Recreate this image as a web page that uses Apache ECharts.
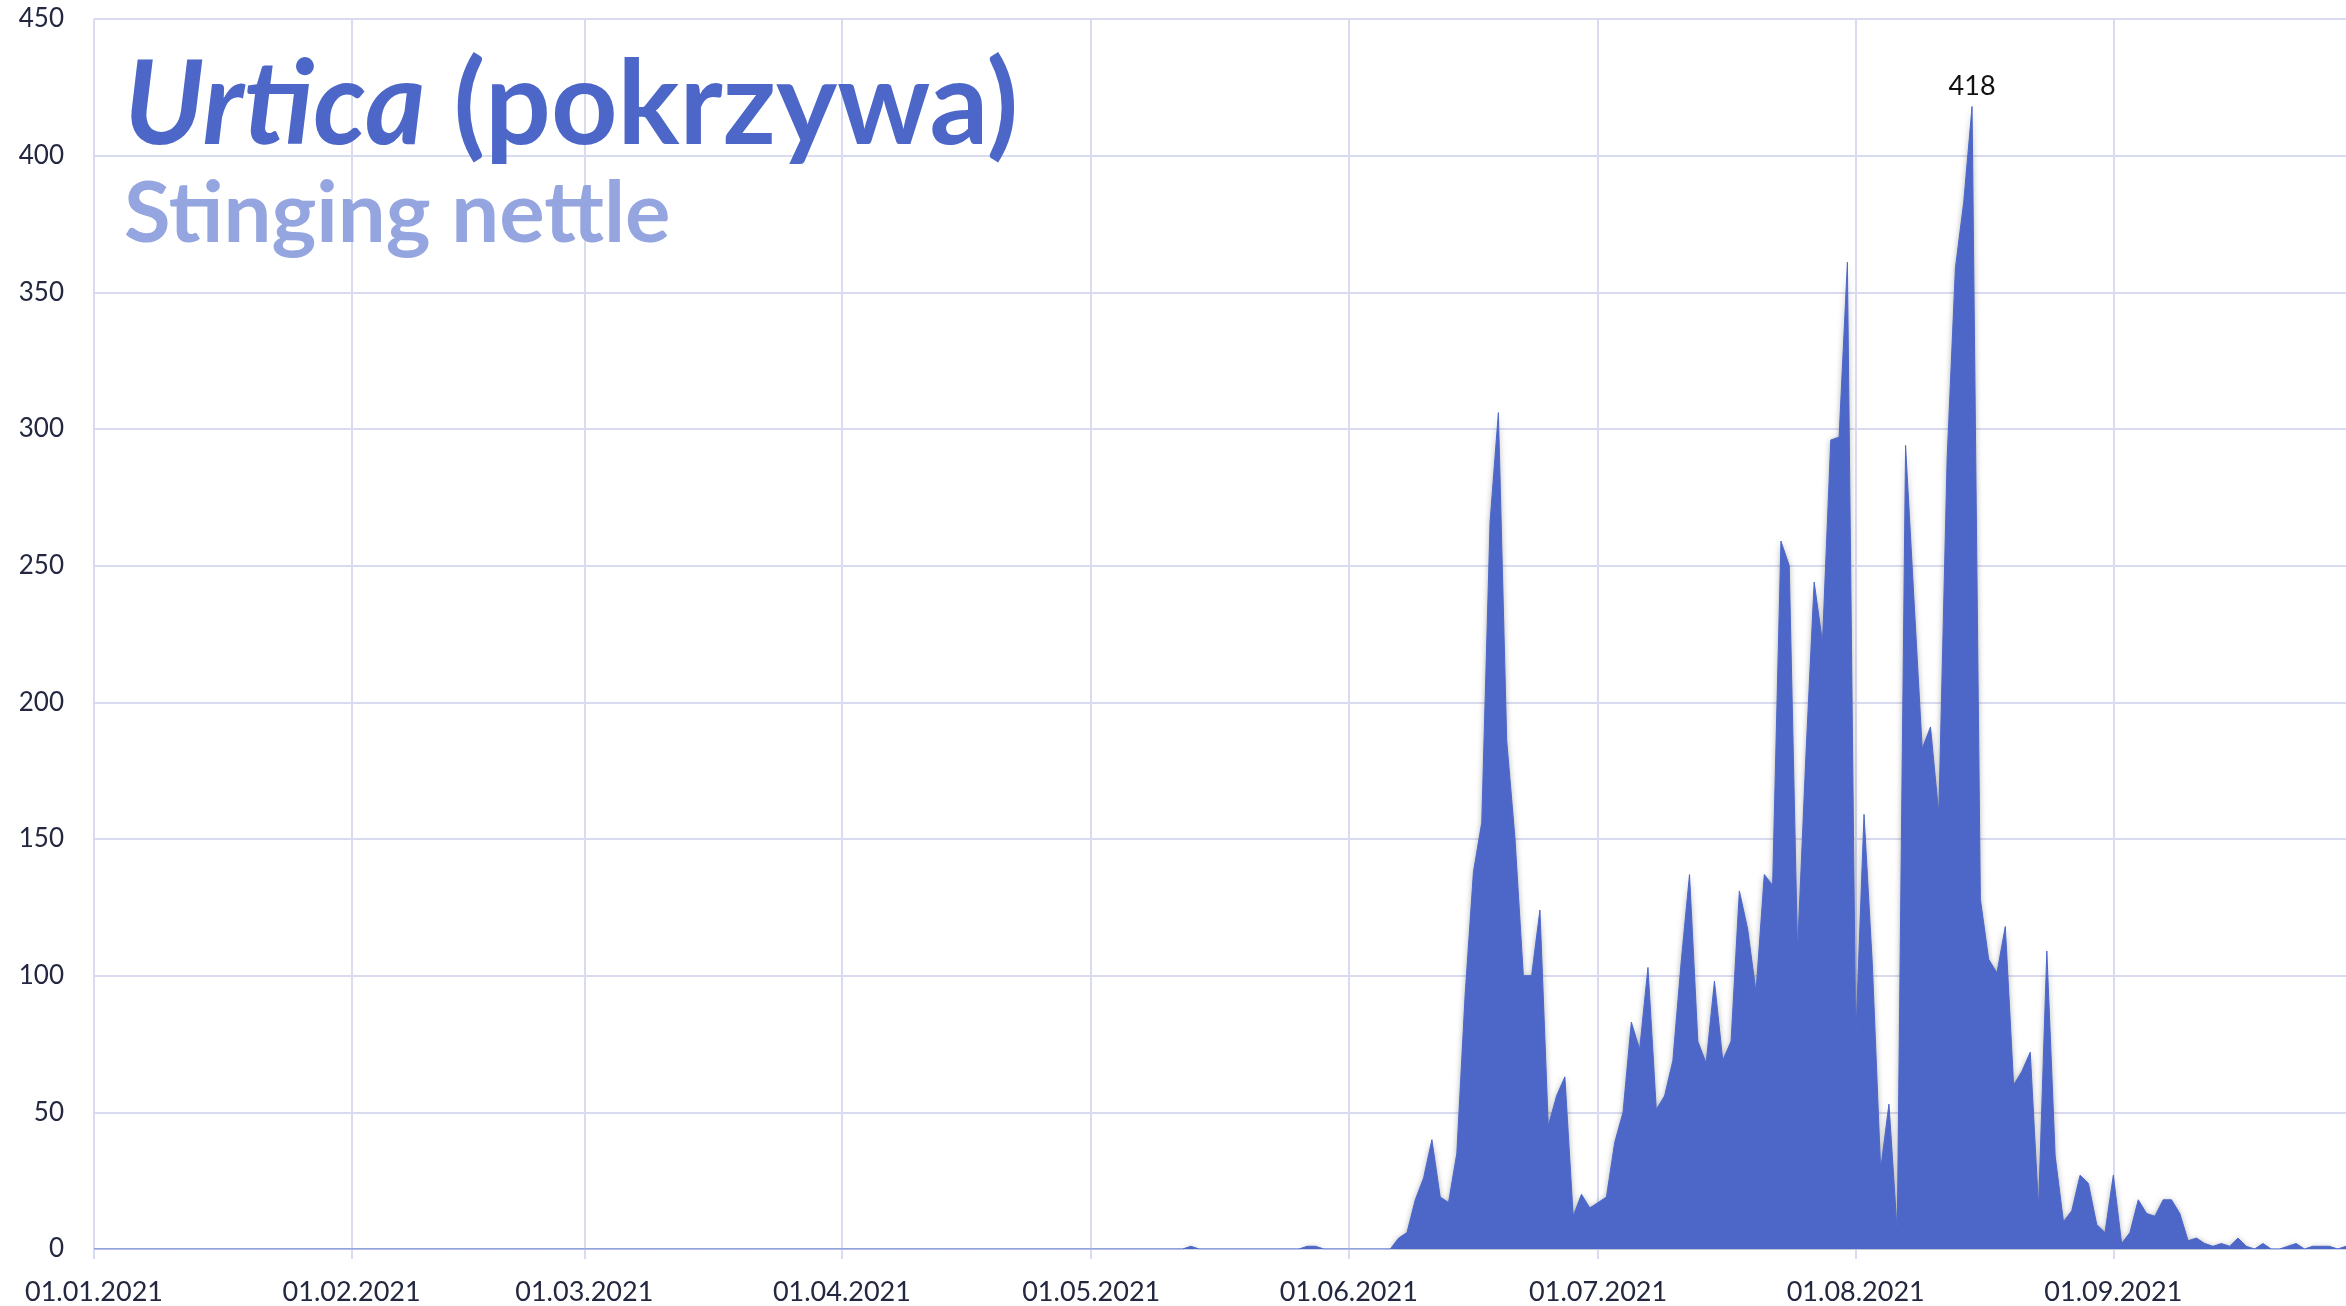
<!DOCTYPE html>
<html>
<head>
<meta charset="utf-8">
<script src="https://cdn.jsdelivr.net/npm/echarts@6/dist/echarts.min.js"></script>
<style>
html,body{margin:0;padding:0;background:#fff;}
#chart{width:2346px;height:1306px;}
</style>
</head>
<body>
<div id="chart"></div>
<script>
// Daily pollen counts 2021, one array per month (Jan 1 .. Sep 29)
const jan = [0,0,0,0,0,0,0,0,0,0,0,0,0,0,0,0,0,0,0,0,0,0,0,0,0,0,0,0,0,0,0];
const feb = [0,0,0,0,0,0,0,0,0,0,0,0,0,0,0,0,0,0,0,0,0,0,0,0,0,0,0,0];
const mar = [0,0,0,0,0,0,0,0,0,0,0,0,0,0,0,0,0,0,0,0,0,0,0,0,0,0,0,0,0,0,0];
const apr = [0,0,0,0,0,0,0,0,0,0,0,0,0,0,0,0,0,0,0,0,0,0,0,0,0,0,0,0,0,0];
const may = [0,0,0,0,0,0,0,0,0,0,0,0,1,0,0,0,0,0,0,0,0,0,0,0,0,0,1,1,0,0,0];
const jun = [0,0,0,0,0,0,4,6,18,26,40,19,17,35,93,138,156,266,306,186,150,100,100,124,45,56,63,12,20,15];
const jul = [17,19,39,50,83,73,103,51,56,69,105,137,76,68,98,69,76,131,117,94,137,133,259,250,109,180,244,222,296,297,361];
const aug = [76,159,104,29,53,6,294,238,183,191,159,289,359,383,418,128,106,101,118,60,65,72,15,109,34,10,14,27,24,9,6];
const sep = [27,2,6,18,13,12,18,18,13,3,4,2,1,2,1,4,1,0,2,0,0,1,2,0,1,1,1,0,1];

const months = [jan, feb, mar, apr, may, jun, jul, aug, sep];
const yearLabel = '2021';
const yTicks = [0, 50, 100, 150, 200, 250, 300, 350, 400, 450];

const titleMain = 'Urtica';
const titleLatin = '(pokrzywa)';
const titleSub = 'Stinging nettle';

// build categories dd.MM.yyyy
const categories = [];
const values = [];
months.forEach((arr, m) => {
  arr.forEach((v, d) => {
    const dd = String(d + 1).padStart(2, '0');
    const mm = String(m + 1).padStart(2, '0');
    categories.push(dd + '.' + mm + '.' + yearLabel);
    values.push(v);
  });
});
const isMonthStart = (idx, val) => String(val).startsWith('01.');

const gridColor = '#d9dcf0';
const textColor = '#23273f';
const mainColor = '#4d67c9';

const chart = echarts.init(document.getElementById('chart'));
chart.setOption({
  animation: false,
  backgroundColor: '#ffffff',
  title: [
    {
      text: '{i|' + titleMain + '}{n| ' + titleLatin + '}',
      left: 124, top: 49, padding: 0,
      textStyle: {
        rich: {
          i: {fontFamily: 'Lato', fontStyle: 'italic', fontWeight: 'bold', fontSize: 116, color: mainColor, lineHeight: 116},
          n: {fontFamily: 'Lato', fontWeight: 'bold', fontSize: 116, color: mainColor, lineHeight: 116}
        }
      }
    },
    {
      text: titleSub,
      left: 124, top: 172, padding: 0,
      textStyle: {fontFamily: 'Lato', fontWeight: 'bold', fontSize: 85, color: '#94a5df', lineHeight: 85}
    }
  ],
  grid: {left: 94, right: 0, top: 19, bottom: 57, containLabel: false},
  xAxis: {
    type: 'category',
    data: categories,
    boundaryGap: false,
    axisLine: {show: true, lineStyle: {color: gridColor, width: 2}},
    axisTick: {show: true, interval: isMonthStart, length: 10, lineStyle: {color: gridColor, width: 2}},
    axisLabel: {interval: isMonthStart, color: textColor, fontFamily: 'Lato', fontSize: 27, margin: 30},
    splitLine: {show: true, interval: isMonthStart, lineStyle: {color: gridColor, width: 2}}
  },
  yAxis: {
    type: 'value',
    min: yTicks[0], max: yTicks[yTicks.length - 1], interval: 50,
    axisLine: {show: false},
    axisTick: {show: false},
    axisLabel: {color: textColor, fontFamily: 'Lato', fontSize: 26, margin: 30},
    splitLine: {show: true, lineStyle: {color: gridColor, width: 2}}
  },
  series: [{
    type: 'line',
    data: values,
    showSymbol: false,
    symbol: 'none',
    lineStyle: {width: 1, color: mainColor},
    areaStyle: {color: mainColor, opacity: 1, shadowColor: 'rgba(0,0,0,0.35)', shadowBlur: 6, shadowOffsetY: 1},
    markPoint: {
      symbol: 'circle',
      symbolSize: 1,
      itemStyle: {color: 'rgba(0,0,0,0)'},
      data: [{type: 'max'}],
      label: {show: true, position: 'top', distance: 6, color: '#111', fontFamily: 'Lato', fontSize: 27}
    },
    z: 3
  }]
});
</script>
</body>
</html>
